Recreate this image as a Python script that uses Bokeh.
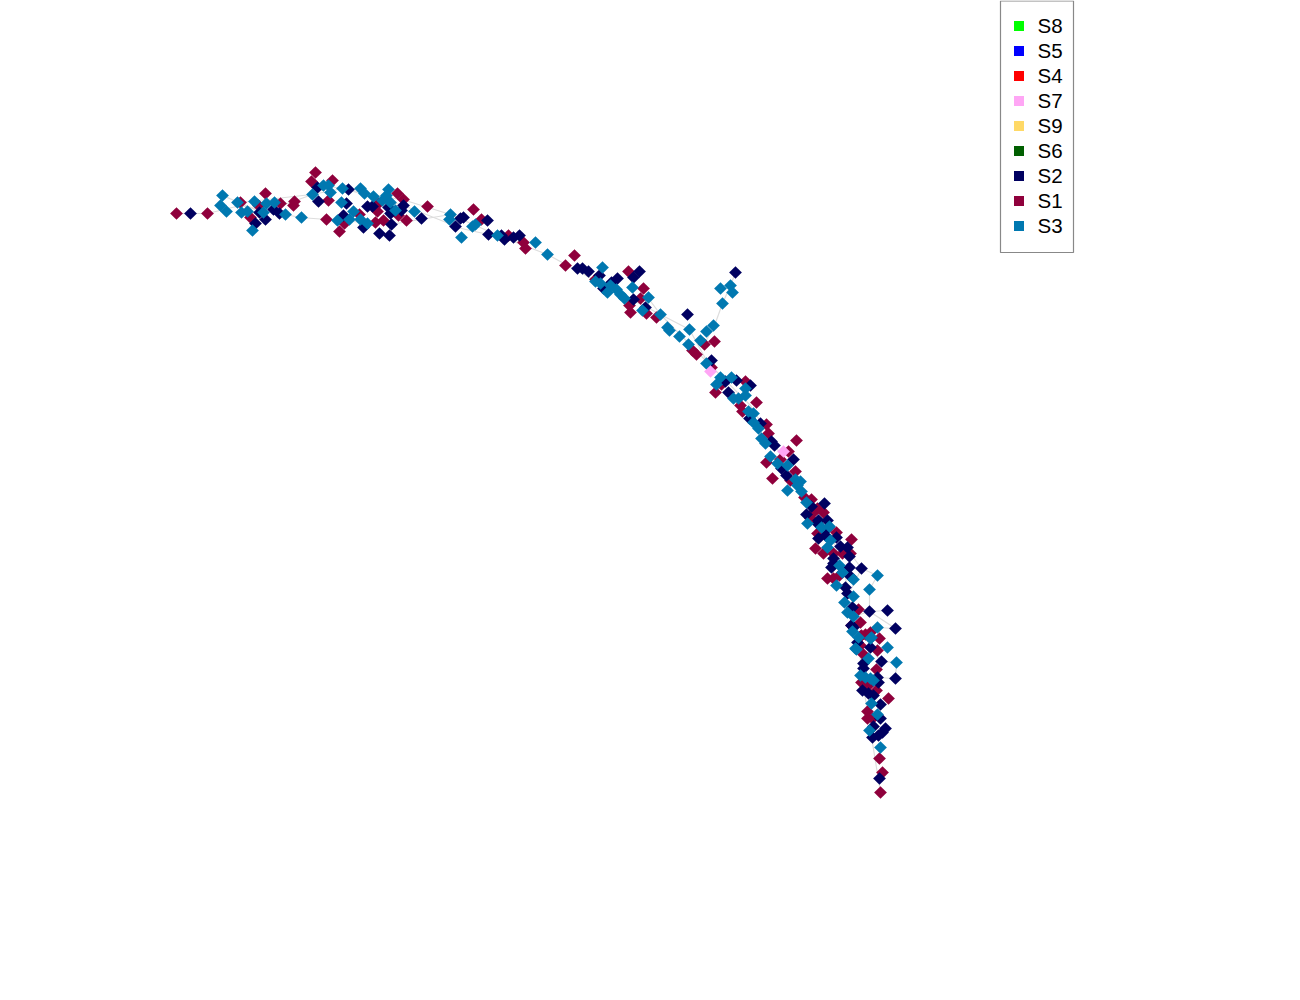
from math import pi
from bokeh.plotting import figure
from bokeh.models import Legend, LegendItem, ColumnDataSource
from bokeh.embed import file_html
from bokeh.resources import INLINE

legend_names = ["S8", "S5", "S4", "S7", "S9", "S6", "S2", "S1", "S3"]
legend_colors = ["#00ff00", "#0000ff", "#ff0000", "#ffa6f5", "#ffd966", "#005f00", "#000060", "#8f003c", "#0078b0"]

s1 = [(176,213),(207,213),(240,202),(265,193),(258,205),(250,217),(280,203),(294,201),(293,205),(315,172),(311,181),
      (332,180),(328,200),(326,219),(339,231),(344,223),(359,214),(375,222),(383,220),(377,211),(397,193),(403,199),
      (427,206),(406,220),(398,215),(378,203),(473,209),(481,219),(508,235),(523,242),(525,248),(565,265),(574,255),
      (628,271),(643,288),(640,298),(629,305),(630,312),(646,313),(656,317),(595,279),(704,344),(714,341),(692,350),
      (696,354),(711,367),(721,384),(715,392),(745,381),(756,402),(740,405),(742,411),(766,424),(768,433),(796,440),
      (788,451),(780,459),(766,462),(795,471),(772,478),(790,480),(804,497),(811,499),(817,508),(812,513),(823,512),
      (810,518),(836,532),(851,539),(815,548),(817,533),(823,553),(833,553),(842,553),(850,553),(827,578),(833,578),
      (839,575),(858,609),(860,622),(870,632),(865,634),(860,636),(879,638),(860,645),(877,650),(851,625),(861,635),
      (863,654),(876,669),(861,682),(868,685),(876,690),(888,698),(867,711),(867,718),(872,718),(879,758),(882,772),(880,792)]

s2 = [(190,213),(259,212),(255,223),(265,219),(273,209),(279,213),(317,187),(318,201),(348,189),(346,203),(343,215),
      (363,227),(379,233),(389,235),(391,224),(367,206),(372,206),(388,207),(390,213),(403,205),(401,210),(421,218),
      (463,217),(460,218),(455,226),(487,220),(488,234),(501,235),(504,239),(513,237),(519,235),(577,268),(582,268),
      (588,271),(599,275),(617,278),(611,282),(603,288),(639,271),(633,277),(633,299),(645,307),(687,314),(735,272),
      (711,360),(736,380),(750,385),(728,392),(725,381),(749,418),(760,423),(771,441),(774,445),(793,459),(781,468),
      (786,475),(824,503),(806,514),(811,506),(818,520),(827,520),(817,523),(828,527),(818,538),(825,535),(836,537),
      (840,546),(847,547),(849,556),(833,558),(833,563),(831,567),(849,567),(861,568),(850,576),(845,587),(847,593),
      (852,607),(869,611),(887,610),(895,628),(851,625),(870,647),(853,627),(857,642),(881,661),(895,678),(863,663),
      (863,668),(877,677),(878,682),(862,690),(868,693),(873,695),(880,704),(880,718),(873,726),(885,728),(882,732),
      (878,735),(872,737),(879,778)]

s3 = [(222,195),(237,202),(220,205),(226,211),(241,212),(247,211),(254,201),(252,230),(266,203),(263,212),(274,202),
      (285,214),(301,217),(312,194),(323,185),(328,185),(330,192),(342,188),(341,202),(353,211),(337,220),(349,219),
      (360,219),(367,223),(360,188),(364,193),(373,196),(382,200),(388,189),(386,195),(390,202),(395,210),(414,211),
      (450,214),(449,219),(461,237),(472,226),(475,224),(497,235),(535,242),(547,254),(602,267),(595,281),(600,283),
      (610,285),(607,292),(616,289),(620,294),(624,298),(632,287),(648,297),(642,310),(660,314),(667,327),(669,330),
      (679,336),(689,329),(706,331),(713,325),(722,303),(720,288),(730,285),(732,292),(688,344),(700,340),(706,363),
      (720,377),(731,377),(716,384),(745,388),(745,395),(738,398),(733,398),(748,411),(753,413),(753,422),(758,428),
      (761,438),(765,443),(770,456),(777,463),(787,465),(795,479),(800,481),(797,485),(801,491),(787,490),(806,502),
      (807,523),(821,527),(829,526),(830,540),(827,547),(839,565),(842,572),(853,579),(836,585),(877,575),(869,589),
      (853,596),(844,602),(847,612),(853,616),(852,631),(877,627),(870,638),(858,637),(887,647),(855,648),(871,637),
      (856,649),(868,658),(896,662),(865,677),(870,678),(873,680),(860,675),(871,703),(877,714),(869,730),(880,747)]

s7 = [(710,371),(783,451)]

edge_paths = [
    [(176,213),(207,213),(240,205),(300,217),(326,219),(390,224),(450,214)],
    [(240,202),(311,194),(330,186),(405,200),(450,214),(500,236),(547,254),(600,283),(660,314),(710,365),(750,405),
     (790,470),(830,530),(855,610),(862,680),(870,730),(880,792)],
    [(222,195),(262,212),(312,194),(342,188),(403,205),(461,228),(523,242)],
    [(703,345),(714,325),(722,303),(730,285),(735,272)],
    [(850,553),(861,568),(877,575),(869,589),(869,611),(887,610)],
    [(869,611),(895,628),(877,627),(869,647),(881,661),(896,662),(895,678),(877,677)],
    [(861,568),(850,590),(853,616),(869,611)],
    [(642,290),(660,314),(689,329),(706,360)],
]

p = figure(width=1300, height=1000, x_range=(0, 1300), y_range=(1000, 0), output_backend="svg",
           toolbar_location=None, min_border=0, margin=(0, 0, 0, 0), background_fill_color="white")
p.axis.visible = False
p.grid.visible = False
p.outline_line_color = None

p.multi_line([[c[0] for c in e] for e in edge_paths], [[c[1] for c in e] for e in edge_paths],
             line_color="#dddddd", line_width=1.2)

by_name = {"S1": s1, "S2": s2, "S3": s3, "S7": s7}
for name in ["S1", "S2", "S3", "S7"]:
    pts = by_name[name]
    color = legend_colors[legend_names.index(name)]
    src = ColumnDataSource(dict(x=[c[0] for c in pts], y=[c[1] for c in pts]))
    p.scatter("x", "y", source=src, marker="square", angle=pi / 4, size=9, fill_color=color, line_color=None)

p.quad(left=[1000], right=[1073], top=[0.5], bottom=[252], fill_color=None, line_color="#888888", line_width=1.2)

items = []
for name, color in zip(legend_names, legend_colors):
    r = p.scatter(x=[float("nan")], y=[float("nan")], marker="square", size=10, fill_color=color, line_color=None)
    items.append(LegendItem(label=name, renderers=[r]))

legend = Legend(items=items, location=(1005.5, 762), orientation="vertical",
                label_text_font="Liberation Sans", label_text_font_size="20.5px", label_text_color="#000000",
                glyph_height=25, glyph_width=25, label_height=25, spacing=0, padding=0, margin=0,
                label_standoff=7, border_line_color=None, background_fill_alpha=0)
p.add_layout(legend, "center")

open("out.html", "w").write(file_html(p, INLINE))
